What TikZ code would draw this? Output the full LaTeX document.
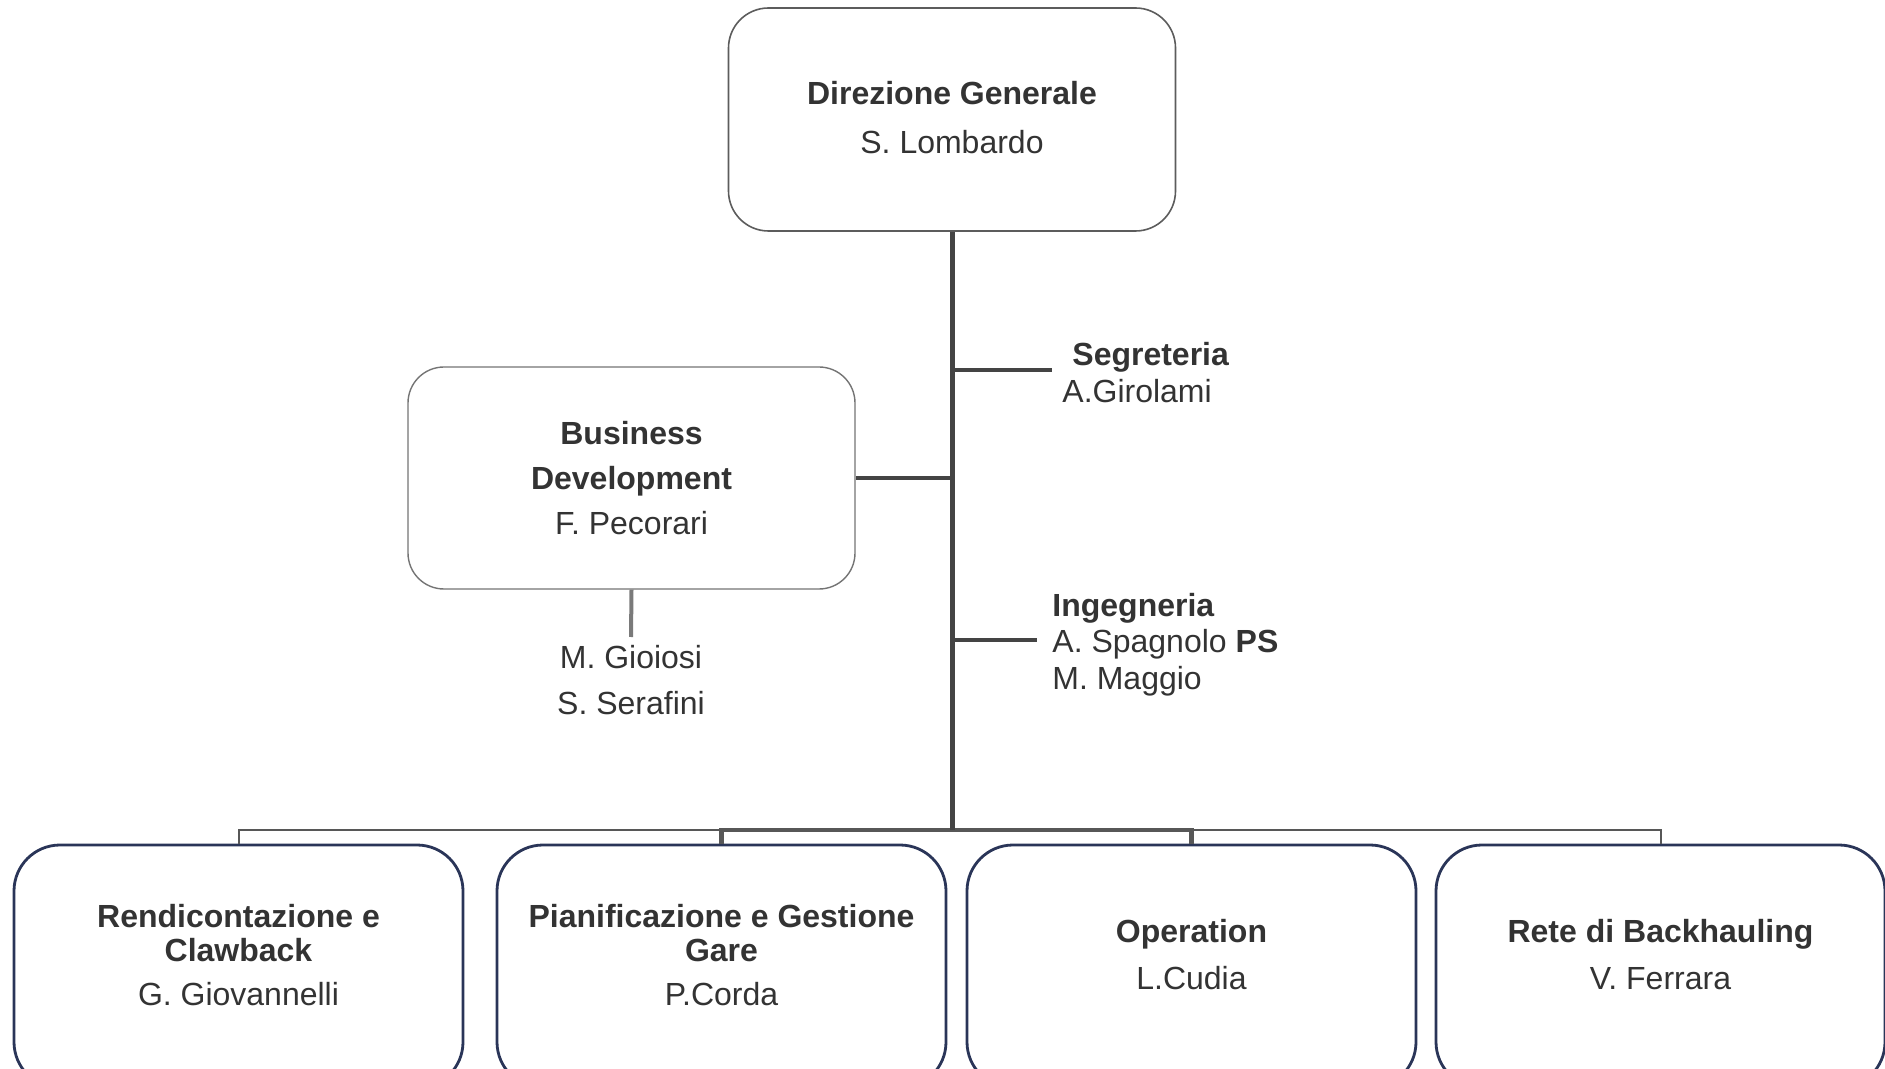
\documentclass[tikz,border=0pt]{standalone}
\usepackage{fontspec}
\setmainfont{Liberation Sans}
\definecolor{txt}{HTML}{333333}
\definecolor{softborder}{HTML}{5C5C5C}
\definecolor{navy}{HTML}{2A3558}
\definecolor{linegray}{HTML}{444444}
\definecolor{subgray}{HTML}{7A7A7A}
\begin{document}
\begin{tikzpicture}[x=0.5pt,y=-0.5pt,
  every node/.style={text=txt, font=\fontsize{16}{22.5}\selectfont},
  topbox/.style={draw=softborder, line width=0.8pt, rounded corners=20pt,
    minimum width=223.5pt, minimum height=111.5pt, align=center, fill=white},
  bdbox/.style={draw=softborder!85, line width=0.7pt, rounded corners=18pt,
    minimum width=223.5pt, minimum height=111pt, align=center, fill=white},
  unitbox/.style={draw=navy, line width=1.4pt, rounded corners=23pt,
    minimum width=224.5pt, minimum height=121.5pt, fill=white},
  unittext/.style={align=center, font=\fontsize{16}{17}\selectfont, inner sep=0pt},
  sidetext/.style={align=left, anchor=west, inner ysep=0pt},
  trunkline/.style={draw=linegray, line width=2.5pt},
  branchline/.style={draw=linegray, line width=2pt},
  subline/.style={draw=subgray, line width=2pt},
  barthin/.style={draw=linegray!90, line width=1pt},
  barthick/.style={draw=linegray!90, line width=2.4pt},
]
\useasboundingbox (0,0) rectangle (1885,1069);

% boxes
\node[topbox] (top) at (952,119.5) {};
\node[align=center, inner sep=0pt, font=\fontsize{16}{24.5}\selectfont] (toptext) at (952,117.5)
  {\textbf{Direzione Generale}\\S. Lombardo};
\node[bdbox] (bd) at (631.5,478) {\textbf{Business}\\\textbf{Development}\\F. Pecorari};

\node[unitbox] (b1) at (238.5,966.5) {};
\node[unitbox] (b2) at (721.5,966.5) {};
\node[unitbox] (b3) at (1191.5,966.5) {};
\node[unitbox] (b4) at (1660.5,966.5) {};

\node[unittext] (t1) at (238.5,955) {\textbf{Rendicontazione e}\\\textbf{Clawback}\\[5pt]G. Giovannelli};
\node[unittext] (t2) at (721.5,955) {\textbf{Pianificazione e Gestione}\\\textbf{Gare}\\[5pt]P.Corda};
\node[unittext, font=\fontsize{16}{23.5}\selectfont] (t3) at (1191.5,955) {\textbf{Operation}\\L.Cudia};
\node[unittext, font=\fontsize{16}{23.5}\selectfont] (t4) at (1660.5,955) {\textbf{Rete di Backhauling}\\V. Ferrara};

% side labels
\node[sidetext, inner xsep=5pt, font=\fontsize{16}{18.5}\selectfont] (seg) at (1052,373)
  {\hspace*{5pt}\textbf{Segreteria}\\A.Girolami};
\node[sidetext, inner xsep=7.5pt, font=\fontsize{16}{18.25}\selectfont] (ing) at (1037,644.5)
  {\textbf{Ingegneria}\\A. Spagnolo \textbf{PS}\\M. Maggio};
\node[align=center, inner sep=0pt, font=\fontsize{16}{23}\selectfont] (bdsub) at (631,680.5)
  {M. Gioiosi\\S. Serafini};

% connectors
\coordinate (jb) at (952,830);
\coordinate (js) at (952,370);
\coordinate (ji) at (952,640);
\coordinate (jd) at (952,478);
\coordinate (bdend) at (631,637);

\draw[barthin] (b1.north) -- (b1.north |- jb) -| (b4.north);
\draw[barthick] (b2.north) -- (b2.north |- jb) -| (b3.north);
\draw[branchline] (js) -- (js -| seg.west);
\draw[branchline] (ji) -- (ji -| ing.west);
\draw[branchline] (bd.east) -- (jd);
\draw[subline] (bd.south) -- (bdend);
\draw[trunkline] (top.south) -- (jb);
\end{tikzpicture}
\end{document}
